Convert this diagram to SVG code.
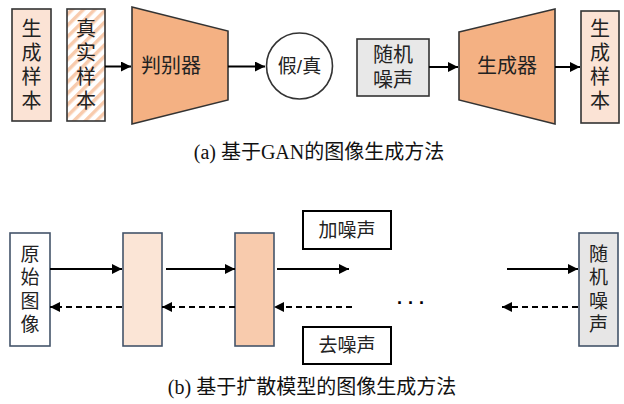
<svg xmlns="http://www.w3.org/2000/svg" width="624" height="404" viewBox="0 0 624 404">
<style>
.t{font-family:"Liberation Sans","Noto Sans CJK SC",sans-serif;fill:#222;text-anchor:middle;dominant-baseline:central}
.cap{font-family:"Liberation Serif","Noto Sans CJK SC",serif;font-size:20px;fill:#111;text-anchor:middle;dominant-baseline:central}
.box{stroke:#333;stroke-width:1.6}
.bbox{stroke:#44546A;stroke-width:1.6}
.ln{stroke:#000;stroke-width:2;fill:none}
.dl{stroke:#000;stroke-width:2;fill:none;stroke-dasharray:6 4}
</style>
<defs>
<marker id="ah" viewBox="0 0 10 10" refX="10" refY="5" markerWidth="5" markerHeight="5" orient="auto" markerUnits="strokeWidth">
<path d="M0,0 L10,5 L0,10 z" fill="#000"/>
</marker>
<pattern id="hatch" width="8" height="8" patternUnits="userSpaceOnUse" patternTransform="rotate(45)">
<rect width="8" height="8" fill="#fff"/>
<rect width="3.5" height="8" fill="#F8CBAD"/>
</pattern>
</defs>
<rect width="624" height="404" fill="#fff"/>

<g id="gen-sample-a">
<rect class="box" x="12" y="9" width="39" height="112" fill="#FBE3D5"/>
<text class="t" font-size="20" x="31.5" y="29">生</text>
<text class="t" font-size="20" x="31.5" y="53">成</text>
<text class="t" font-size="20" x="31.5" y="77">样</text>
<text class="t" font-size="20" x="31.5" y="101">本</text>
</g>
<g id="real-sample">
<rect class="box" x="67" y="9" width="38" height="112" fill="url(#hatch)"/>
<text class="t" font-size="20" x="86" y="29">真</text>
<text class="t" font-size="20" x="86" y="53">实</text>
<text class="t" font-size="20" x="86" y="77">样</text>
<text class="t" font-size="20" x="86" y="101">本</text>
</g>
<g id="discriminator">
<polygon class="box" points="132,7 228,31 228,100 132,124" fill="#F4B183"/>
<text class="t" font-size="20" x="171" y="66">判别器</text>
</g>
<g id="fake-real">
<circle class="box" cx="299.5" cy="66" r="33" fill="#fff"/>
<text class="t" font-size="19" x="299.5" y="66">假/真</text>
</g>
<g id="noise-a">
<rect class="box" x="357" y="39" width="72" height="57" fill="#E8E8E8"/>
<text class="t" font-size="20" x="393" y="55">随机</text>
<text class="t" font-size="20" x="393" y="80">噪声</text>
</g>
<g id="generator">
<polygon class="box" points="459,32 555,9 555,124 459,100" fill="#F4B183"/>
<text class="t" font-size="20" x="507" y="66">生成器</text>
</g>
<g id="gen-sample-a2">
<rect class="box" x="581" y="11" width="38" height="112" fill="#FBE3D5"/>
<text class="t" font-size="20" x="600" y="29">生</text>
<text class="t" font-size="20" x="600" y="53">成</text>
<text class="t" font-size="20" x="600" y="77">样</text>
<text class="t" font-size="20" x="600" y="101">本</text>
</g>

<g id="orig-image">
<rect class="bbox" x="10" y="233" width="40" height="113" fill="#fff"/>
<text class="t" font-size="19" x="30" y="254">原</text>
<text class="t" font-size="19" x="30" y="277.5">始</text>
<text class="t" font-size="19" x="30" y="301">图</text>
<text class="t" font-size="19" x="30" y="324.5">像</text>
</g>
<g id="step1">
<rect class="bbox" x="123" y="233" width="39" height="113" fill="#FBE5D6"/>
</g>
<g id="step2">
<rect class="bbox" x="235" y="233" width="39" height="113" fill="#F8CBAD"/>
</g>
<g id="add-noise">
<rect x="303" y="211" width="88" height="38" fill="#fff" stroke="#000" stroke-width="2"/>
<text class="t" font-size="19" x="347" y="230">加噪声</text>
</g>
<g id="denoise">
<rect x="303" y="327" width="88" height="37" fill="#fff" stroke="#000" stroke-width="2"/>
<text class="t" font-size="19" x="347" y="345.5">去噪声</text>
</g>
<g id="noise-b">
<rect class="bbox" x="579" y="233" width="39" height="113" fill="#E7E6E6"/>
<text class="t" font-size="19" x="598.5" y="254">随</text>
<text class="t" font-size="19" x="598.5" y="277.5">机</text>
<text class="t" font-size="19" x="598.5" y="301">噪</text>
<text class="t" font-size="19" x="598.5" y="324.5">声</text>
</g>
<g id="dots">
<text x="411" y="303" font-family="Liberation Sans, sans-serif" font-size="18" font-weight="bold" text-anchor="middle" dominant-baseline="central" fill="#000">· · ·</text>
</g>

<g id="connectors">
<line class="ln" x1="105" y1="66.5" x2="131" y2="66.5" marker-end="url(#ah)"/>
<line class="ln" x1="228" y1="66.5" x2="265" y2="66.5" marker-end="url(#ah)"/>
<line class="ln" x1="429" y1="67" x2="458" y2="67" marker-end="url(#ah)"/>
<line class="ln" x1="555" y1="67" x2="580" y2="67" marker-end="url(#ah)"/>

<line class="ln" x1="50" y1="269" x2="122" y2="269" marker-end="url(#ah)"/>
<line class="ln" x1="166" y1="269" x2="235" y2="269" marker-end="url(#ah)"/>
<line class="ln" x1="277" y1="269" x2="349" y2="269" marker-end="url(#ah)"/>
<line class="ln" x1="507" y1="269" x2="578" y2="269" marker-end="url(#ah)"/>

<line class="dl" x1="122" y1="307" x2="50" y2="307" marker-end="url(#ah)"/>
<line class="dl" x1="235" y1="307" x2="162" y2="307" marker-end="url(#ah)"/>
<line class="dl" x1="352" y1="307" x2="274" y2="307" marker-end="url(#ah)"/>
<line class="dl" x1="578" y1="307" x2="502" y2="307" marker-end="url(#ah)"/>
</g>

<text class="cap" x="319" y="152">(a) 基于GAN的图像生成方法</text>
<text class="cap" x="312" y="387">(b) 基于扩散模型的图像生成方法</text>
</svg>
